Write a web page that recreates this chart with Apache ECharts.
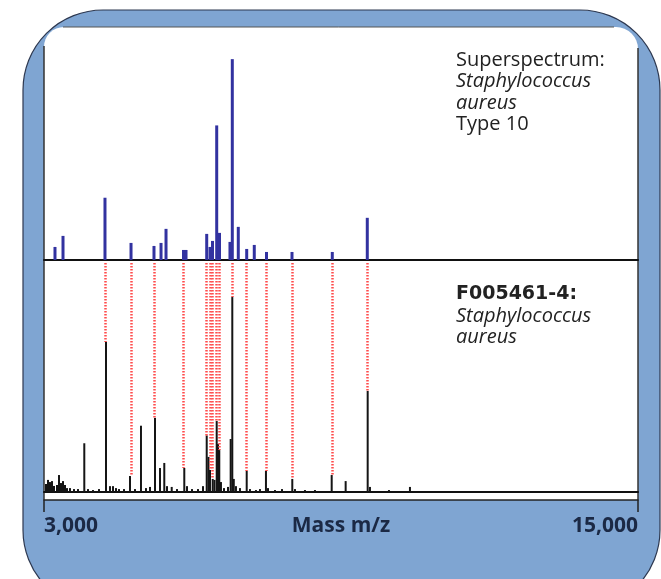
<!DOCTYPE html>
<html>
<head>
<meta charset="utf-8">
<script src="https://cdn.jsdelivr.net/npm/echarts@6/dist/echarts.min.js"></script>
<style>
  html, body { margin: 0; padding: 0; background: #fff; }
  #chart { width: 661px; height: 579px; }
</style>
</head>
<body>
<div id="chart"></div>
<script>
// superspectrum peaks (top panel), relative intensity
const superMass = [3222, 3384, 4232, 4758, 5222, 5364, 5465, 5818, 5869, 6287, 6354, 6404, 6489, 6545, 6757, 6804, 6925, 7095, 7248, 7495, 8010, 8824, 9531];
const superIntensity = [6.5, 12, 31, 8.5, 7, 8.5, 15.5, 5, 5, 13, 6.5, 9.5, 67, 13.5, 9, 100, 16.5, 5.5, 7.5, 4, 4, 4, 21];

// measured spectrum F005461-4 (bottom panel)
const sampleMass = [3040, 3081, 3121, 3162, 3202, 3263, 3303, 3343, 3384, 3424, 3465, 3525, 3606, 3687, 3814, 3889, 3990, 4111,
  4252, 4333, 4394, 4454, 4515, 4616, 4737, 4838, 4959, 5060, 5141, 5242, 5343, 5430, 5485, 5580, 5687, 5834, 5889, 5990,
  6111, 6212, 6287, 6323, 6353, 6408, 6444, 6489, 6515, 6541, 6575, 6636, 6717, 6771, 6804, 6834, 6878, 6959, 7095, 7161,
  7282, 7363, 7484, 7525, 7666, 7808, 8016, 8070, 8272, 8474, 8812, 9094, 9539, 9585, 9969, 10393];
const sampleIntensity = [4.1, 6.2, 5.1, 5.6, 3.1, 3.6, 8.7, 4.6, 5.6, 3.6, 2, 2, 1.5, 1.5, 25, 1.5, 1, 1.5,
  77, 3, 3, 2, 1.5, 1.5, 8.2, 1.5, 34, 2, 2.6, 38, 12.3, 14.9, 3, 2.6, 1.5, 12.3, 3, 1.5,
  1.5, 3, 29, 18, 11.3, 6.7, 6.2, 36.4, 24.6, 21.5, 5.1, 2, 2.6, 27.2, 100, 6.7, 3, 2, 10.8, 1.5,
  1, 1.5, 10.8, 2, 1, 1.5, 6.7, 1.5, 1, 1, 8.7, 5.6, 51.8, 2.6, 1, 2.6];

// matched peaks (red dotted connectors) and where they stop in the lower panel
const matchMass = [4232, 4758, 5222, 5818, 6287, 6354, 6404, 6489, 6545, 6804, 7095, 7495, 8010, 8824, 9531];
const matchEnd = [77, 8.2, 38, 12.3, 29, 11.3, 6.7, 36.4, 21.5, 100, 10.8, 10.8, 6.7, 8.7, 51.8];

const axisTicks = [3000, 15000];
const axisTitle = "Mass m/z";
const topText = ["Superspectrum:", "Staphylococcus", "aureus", "Type 10"];
const bottomText = ["F005461-4:", "Staphylococcus", "aureus"];

const chart = echarts.init(document.getElementById("chart"));

const zip = (a, b) => a.map((v, i) => [v, b[i]]);
const font = "'Open Sans', sans-serif";
const labelColor = "#1b2945";

chart.setOption({
  animation: false,
  graphic: [
    {
      type: "rect",
      z: -20,
      shape: { x: 23, y: 10, width: 637, height: 600, r: 80 },
      style: { fill: "#7fa5d2", stroke: "#2d3850", lineWidth: 1.2 },
    },
    {
      type: "rect",
      z: -15,
      shape: { x: 44, y: 27, width: 594, height: 473, r: [20, 22, 0, 0] },
      style: { fill: "#ffffff" },
    },
    { type: "line", z: -10, shape: { x1: 44, y1: 46, x2: 44, y2: 500 }, style: { stroke: "#333", lineWidth: 1.5 } },
    { type: "line", z: -10, shape: { x1: 638, y1: 48, x2: 638, y2: 500 }, style: { stroke: "#333", lineWidth: 1.5 } },
    { type: "line", z: -10, shape: { x1: 63, y1: 27, x2: 614, y2: 27 }, style: { stroke: "#555", lineWidth: 1 } },
    ...topText.map((t, i) => ({
      type: "text",
      left: 456,
      top: 50 + i * 21.5,
      style: {
        text: t,
        font: (i === 1 || i === 2 ? "italic " : "") + "20px " + font,
        fill: "#222",
      },
    })),
    ...bottomText.map((t, i) => ({
      type: "text",
      left: 456,
      top: 285 + i * 21,
      style: {
        text: t,
        font: i === 0 ? "bold 19px 'DejaVu Sans', sans-serif" : "italic 20px " + font,
        fill: "#222",
      },
    })),
  ],
  grid: [
    { left: 44, right: 23, top: 27, bottom: 319 },
    { left: 44, right: 23, top: 260, bottom: 87 },
    { left: 44, right: 23, top: 499, height: 1 },
  ],
  xAxis: [
    {
      gridIndex: 0, type: "value", min: 3000, max: 15000,
      axisLine: { lineStyle: { color: "#111", width: 2 } },
      axisTick: { show: false }, axisLabel: { show: false }, splitLine: { show: false },
    },
    {
      gridIndex: 1, type: "value", min: 3000, max: 15000,
      axisLine: { lineStyle: { color: "#111", width: 2 } },
      axisTick: { show: false }, axisLabel: { show: false }, splitLine: { show: false },
    },
    {
      gridIndex: 2, type: "value", min: 3000, max: 15000,
      name: axisTitle,
      nameLocation: "middle",
      nameGap: 16,
      nameMoveOverlap: false,
      nameTextStyle: { fontFamily: font, fontWeight: "bold", fontSize: 21, color: labelColor, verticalAlign: "top" },
      axisLine: { lineStyle: { color: "#222", width: 1.5 } },
      axisTick: { customValues: axisTicks, length: 12, lineStyle: { color: "#222", width: 1.5 } },
      axisLabel: {
        customValues: axisTicks,
        margin: 16,
        alignMinLabel: "left",
        alignMaxLabel: "right",
        fontFamily: font, fontWeight: "bold", fontSize: 21, color: labelColor,
        formatter: (v) => v.toLocaleString("en-US"),
      },
      splitLine: { show: false },
    },
  ],
  yAxis: [
    { gridIndex: 0, type: "value", min: 0, max: 116, show: false },
    { gridIndex: 1, type: "value", min: 0, max: 119, show: false },
    { gridIndex: 2, type: "value", min: 0, max: 1, show: false },
  ],
  series: [
    {
      name: "Superspectrum",
      type: "bar",
      xAxisIndex: 0,
      yAxisIndex: 0,
      barWidth: 3,
      itemStyle: { color: "#3232a0" },
      data: zip(superMass, superIntensity),
    },
    {
      name: "F005461-4",
      type: "bar",
      xAxisIndex: 1,
      yAxisIndex: 1,
      barWidth: 2,
      itemStyle: { color: "#151515" },
      data: zip(sampleMass, sampleIntensity),
      markLine: {
        silent: true,
        symbol: "none",
        label: { show: false },
        lineStyle: { color: "#ff4d4d", width: 2.5, type: [1.5, 1.5] },
        data: matchMass.map((m, i) => [{ coord: [m, 117.5] }, { coord: [m, matchEnd[i]] }]),
      },
    },
  ],
});
</script>
</body>
</html>
